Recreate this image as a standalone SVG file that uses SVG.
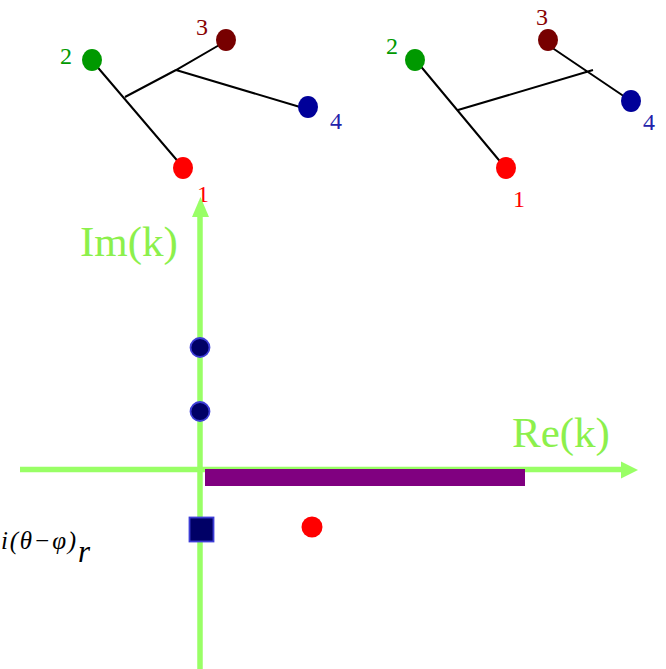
<svg xmlns="http://www.w3.org/2000/svg" width="666" height="669" viewBox="0 0 666 669">
<style>
.lbl{font-family:"Liberation Serif",serif;font-size:24px;text-anchor:middle}
.edge{stroke:#000;stroke-width:2;fill:none}
.axis{stroke:#99ff66;stroke-width:5.5;fill:none}
.ah{fill:#99ff66}
.ax{font-family:"Liberation Serif",serif;font-size:43px;fill:#8cf04c}
.pole{fill:#000066;stroke:#3d3dd6;stroke-width:1.8}
.math{font-family:"Liberation Serif",serif;font-style:italic}
</style>
<rect width="666" height="669" fill="#fff"/>
<g id="connectors">
<path class="edge" d="M94 63 L181 165 M125 97 L176 70 L221 44 M176 70 L300 107"/>
<path class="edge" d="M418 63 L503 165 M458 110 L593 70 M548 45 L625 97"/>
</g>
<g id="tree-left">
<g id="L2"><ellipse cx="92" cy="60" rx="10" ry="11" fill="#009900"/><text class="lbl" x="66" y="64" fill="#009900">2</text></g>
<g id="L3"><ellipse cx="226" cy="40" rx="10" ry="11" fill="#770000"/><text class="lbl" x="202" y="35" fill="#880000">3</text></g>
<g id="L4"><ellipse cx="308" cy="107" rx="10" ry="11" fill="#000099"/><text class="lbl" x="336" y="129" fill="#2222aa">4</text></g>
<g id="L1"><ellipse cx="183" cy="168" rx="10" ry="11" fill="#ff0000"/><text class="lbl" x="203" y="202" fill="#ff0000">1</text></g>
</g>
<g id="tree-right">
<g id="R2"><ellipse cx="415" cy="60" rx="10" ry="11" fill="#009900"/><text class="lbl" x="392" y="54" fill="#009900">2</text></g>
<g id="R3"><ellipse cx="548" cy="40" rx="10" ry="11" fill="#770000"/><text class="lbl" x="542" y="25" fill="#880000">3</text></g>
<g id="R4"><ellipse cx="631" cy="101" rx="10" ry="11" fill="#000099"/><text class="lbl" x="649" y="130" fill="#2222aa">4</text></g>
<g id="R1"><ellipse cx="506" cy="168" rx="10" ry="11" fill="#ff0000"/><text class="lbl" x="519" y="207" fill="#ff0000">1</text></g>
</g>
<g id="axes">
<line class="axis" x1="200" y1="669" x2="200" y2="212"/>
<polygon class="ah" points="200.5,197 192,217 209,217"/>
<line class="axis" x1="20" y1="469.5" x2="624" y2="469.5"/>
<polygon class="ah" points="638,470 621,461.5 621,478.5"/>
<text class="ax" x="80" y="256">Im(k)</text>
<text class="ax" x="512" y="447">Re(k)</text>
</g>
<g id="cut">
<rect x="205" y="469" width="320" height="17" fill="#800080"/>
</g>
<g id="poles">
<circle class="pole" cx="200" cy="347.5" r="9.5"/>
<circle class="pole" cx="200" cy="411.5" r="9.5"/>
<rect class="pole" x="189.5" y="517.5" width="24" height="24"/>
<circle cx="312" cy="527" r="10.5" fill="#ff0000"/>
</g>
<g id="formula">
<text class="math" x="1" y="549" font-size="25" textLength="75" lengthAdjust="spacing">i(θ−φ)</text>
<text class="math" x="78" y="562" font-size="31">r</text>
</g>
</svg>
